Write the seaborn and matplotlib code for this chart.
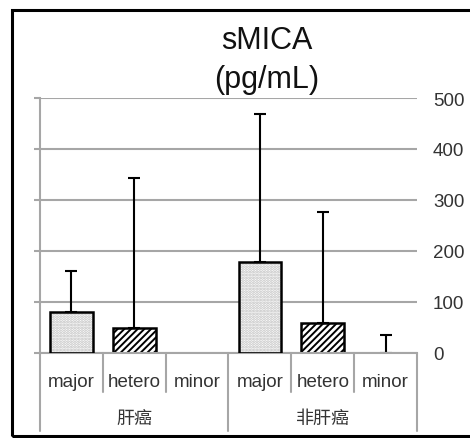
import numpy as np
import pandas as pd
import matplotlib
matplotlib.use("Agg")
import matplotlib.pyplot as plt
import matplotlib.patches as mpatches
import seaborn as sns

groups = ["肝癌", "非肝癌"]
subtypes = ["major", "hetero", "minor"]
means = [80, 49, 0, 178, 59, 0]
upper = [161, 343, 0, 469, 276, 35]
yticks = [0, 100, 200, 300, 400, 500]

keys = [g + "-" + s for g in groups for s in subtypes]
df = pd.DataFrame({"key": keys, "group": np.repeat(groups, 3),
                   "sub": subtypes * 2, "mean": means, "upper": upper})

sns.set_style("white")
plt.rcParams["font.family"] = ["Liberation Sans", "Noto Sans CJK SC"]
plt.rcParams["hatch.linewidth"] = 1.4

grid_c = "#a6a6a6"
txt_c = "#333333"

fig = plt.figure(figsize=(4.7, 4.39), dpi=100)
ax = fig.add_axes([40 / 470, 1 - 354 / 439, 377 / 470, 255 / 439])

sns.barplot(data=df, x="key", y="mean", order=keys, color="white",
            width=0.68, errorbar=None, ax=ax, saturation=1)

for p, s in zip(ax.patches, df["sub"]):
    if s == "major":
        p.set_facecolor("white")
        p.set_edgecolor("#bdbdbd")
        p.set_hatch("......")
        p.set_linewidth(0)
        ax.add_patch(mpatches.Rectangle(p.get_xy(), p.get_width(), p.get_height(),
                                        fill=False, edgecolor="black", lw=1.8, zorder=3))
    elif s == "hetero":
        p.set_facecolor("white")
        p.set_edgecolor("black")
        p.set_hatch("/////")
        p.set_linewidth(1.8)
    else:
        p.set_linewidth(0)

# upper-only error bars
xs = np.arange(len(keys))
err = np.array(upper) - np.array(means)
mask = err > 0
ax.errorbar(xs[mask], np.array(means)[mask], yerr=[np.zeros(mask.sum()), err[mask]],
            fmt="none", ecolor="black", elinewidth=1.5, capsize=4, capthick=1.5, zorder=2)

ax.set_ylim(0, 500)
ax.set_xlim(-0.5, 5.5)
ax.set_yticks(yticks)
ax.yaxis.grid(True, color=grid_c, lw=1.5)
ax.set_axisbelow(True)
ax.tick_params(axis="y", left=True, right=False, labelleft=False, labelright=True,
               length=4.5, width=1.5, color=grid_c, pad=7, labelsize=13.5, labelcolor=txt_c)
ax.set_xticks([])
ax.set_xlabel("")
ax.set_ylabel("")
for sp in ["top", "right"]:
    ax.spines[sp].set_visible(False)
for sp in ["left", "bottom"]:
    ax.spines[sp].set_color(grid_c)
    ax.spines[sp].set_linewidth(1.5)

# hierarchical category axis
tr = ax.get_xaxis_transform()
for i in range(len(keys) + 1):
    b = i - 0.5
    y_end = -0.306 if i % 3 == 0 else -0.153
    ax.plot([b, b], [0, y_end], color=grid_c, lw=1.5, transform=tr, clip_on=False)
for i, s in enumerate(df["sub"]):
    ax.text(i, -0.11, s, transform=tr, ha="center", va="center",
            fontsize=13.5, color=txt_c)
for j, g in enumerate(groups):
    ax.text(j * 3 + 1, -0.258, g, transform=tr, ha="center", va="center",
            fontsize=13, color=txt_c)

fig.text(267 / 470, 1 - 41 / 439, "sMICA", ha="center", va="center",
         fontsize=22, color="#111111")
fig.text(267 / 470, 1 - 80 / 439, "(pg/mL)", ha="center", va="center",
         fontsize=22, color="#111111")

fig.add_artist(mpatches.Rectangle((12 / 470, 2 / 439), 1.0, 1 - 13 / 439,
                                  fill=False, edgecolor="black", lw=2.2,
                                  transform=fig.transFigure))

fig.savefig("out.png", dpi=100, facecolor="white")
